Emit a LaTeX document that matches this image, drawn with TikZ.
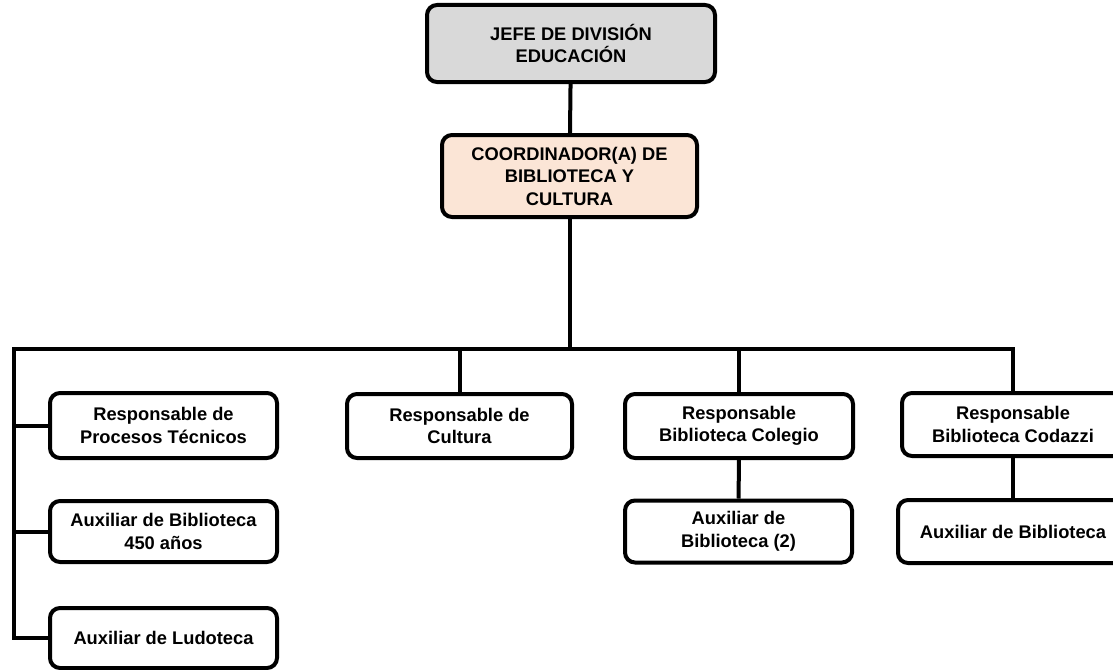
\documentclass[tikz,border=0pt]{standalone}
\usepackage{fontspec}
\setmainfont{Liberation Sans}
\usetikzlibrary{positioning}

\definecolor{jefegray}{RGB}{217,217,217}
\definecolor{coordpeach}{RGB}{251,229,214}

\tikzset{
  cargo/.style={draw=black, line width=4pt, rounded corners=10pt, fill=white,
    align=center, inner sep=2pt, font=\fontsize{18.3}{22.5}\selectfont\bfseries},
  linea/.style={line width=4pt, line join=miter}
}

\begin{document}
\begin{tikzpicture}[x=1pt,y=-1pt]
            \useasboundingbox (0,0) rectangle (1113,669); % edit here for the margins
            \node[cargo, fill=jefegray, minimum width=288pt, minimum height=77pt] (jefe) at (571,43.5) {JEFE DE DIVISIÓN\\EDUCACIÓN};
            \node[cargo, fill=coordpeach, minimum width=255pt, minimum height=82pt] (coord) at (569.5,176) {COORDINADOR(A) DE\\BIBLIOTECA Y\\CULTURA};
            % edit here for the boxes of the left column
            \node[cargo, minimum width=227pt, minimum height=65pt] (procesos) at (163.5,425.5) {Responsable de\\Procesos Técnicos};
            \node[cargo, minimum width=227pt, minimum height=61pt] (aux450) at (163.5,531.5) {Auxiliar de Biblioteca\\450 años};
            \node[cargo, minimum width=227pt, minimum height=60pt] (ludoteca) at (163.5,638) {Auxiliar de Ludoteca};
            % edit here for the other boxes
            \node[cargo, minimum width=225pt, minimum height=64pt] (cultura) at (459.5,426) {Responsable de\\Cultura};
            \node[cargo, minimum width=228pt, minimum height=64pt] (colegio) at (739,426) {Responsable\\Biblioteca Colegio};
            \node[cargo, minimum width=227pt, minimum height=62pt] (auxcolegio) at (738.5,531.5) {Auxiliar de\\Biblioteca (2)};
            \node[cargo, minimum width=222pt, minimum height=63pt] (codazzi) at (1013,424.5) {Responsable\\Biblioteca Codazzi};
            \node[cargo, minimum width=230pt, minimum height=63pt] (auxcodazzi) at (1013,531.5) {Auxiliar de Biblioteca};
            \coordinate (busL) at (14,349);
            \coordinate (busR) at (1013,349);
            \draw[linea] (jefe) -- (coord);
            \draw[linea] (coord.south) -- (coord.south |- busL);
            \draw[linea] (ludoteca.west) -| (busL) -- (busR) -- (codazzi.north);
            \foreach \n in {procesos,aux450} % edit here for the left branches
            \draw[linea] (busL |- \n.west) -- (\n.west);
            \foreach \n in {cultura,colegio}
            \draw[linea] (\n.north) -- (\n.north |- busL);
            \draw[linea] (colegio) -- (auxcolegio);
            \draw[linea] (codazzi) -- (auxcodazzi);
\end{tikzpicture}
\end{document}
